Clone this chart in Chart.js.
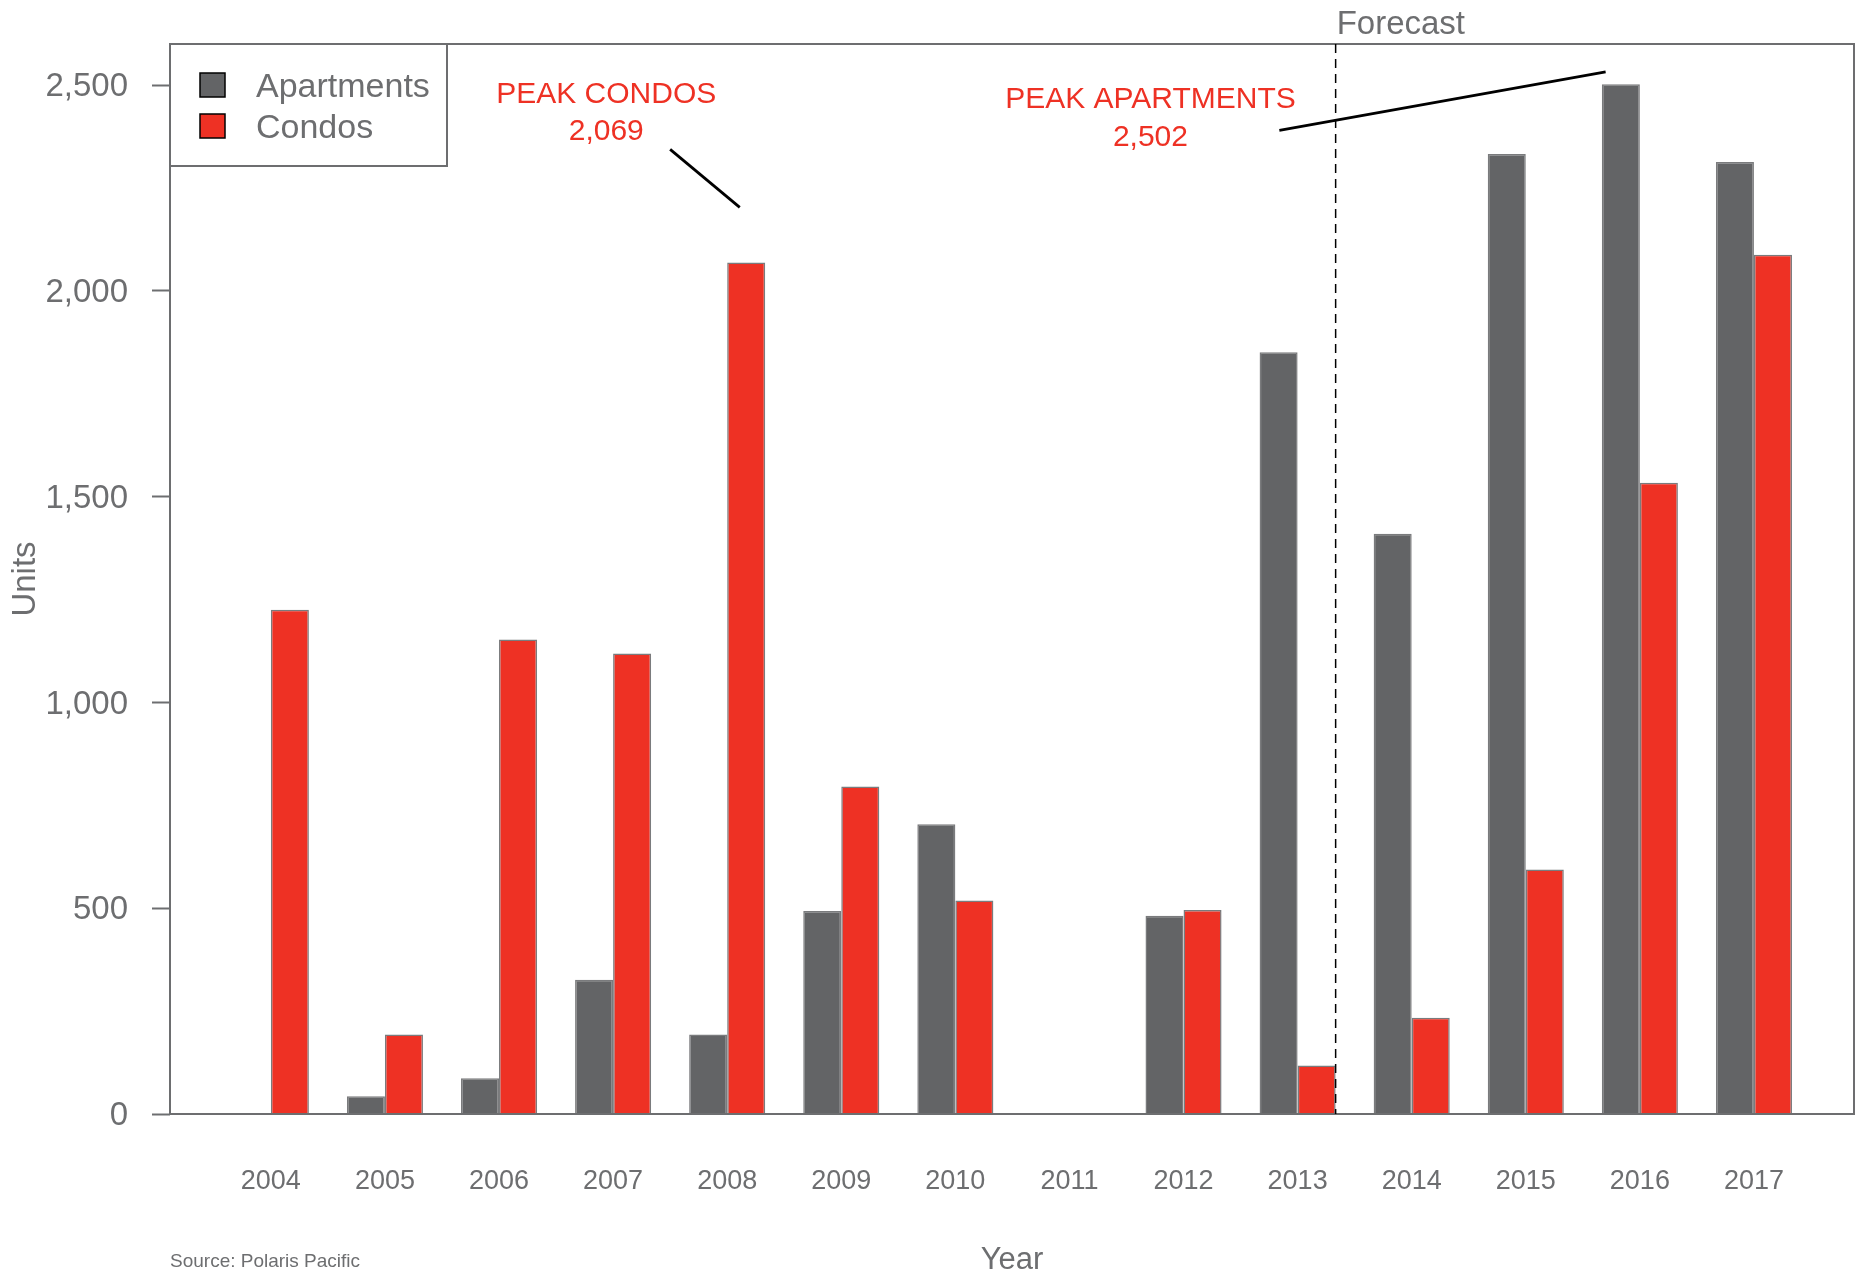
<!DOCTYPE html>
<html>
<head>
<meta charset="utf-8">
<script src="https://cdn.jsdelivr.net/npm/chart.js@4"></script>
<style>
  html, body { margin: 0; padding: 0; background: #fff; }
  #wrap { width: 1860px; height: 1272px; }
</style>
</head>
<body>
<div id="wrap"><canvas id="chart"></canvas></div>
<script>
const years = [2004, 2005, 2006, 2007, 2008, 2009, 2010, 2011, 2012, 2013, 2014, 2015, 2016, 2017];
const apartments = [0, 43, 87, 326, 193, 493, 704, 0, 482, 1851, 1410, 2333, 2502, 2313];
const condos = [1225, 193, 1153, 1119, 2069, 796, 519, 0, 496, 118, 234, 594, 1534, 2088];
const yTicks = [0, 500, 1000, 1500, 2000, 2500];

const forecastStart = 2013 + 1 / 3;

// callouts, in data units
const callouts = [
    { lines: ["PEAK CONDOS", "2,069"], x: 2006.94, y: [2477, 2387], from: [2007.50, 2344], to: [2008.11, 2203] },
    { lines: ["PEAK APARTMENTS", "2,502"], x: 2011.71, y: [2465, 2373], from: [2012.84, 2390], to: [2015.70, 2532] }
];

const GREY = "#636466";
const RED = "#ee3124";
const TEXT = "#6d6e70";
const FONT = "'Liberation Sans', Arial, sans-serif";

const extras = {
    id: "extras",
    afterDraw(chart) {
        const ctx = chart.ctx;
        const a = chart.chartArea;
        const xs = chart.scales.x, ys = chart.scales.y;
        ctx.save();

        // box
        ctx.strokeStyle = TEXT;
        ctx.lineWidth = 2;
        ctx.strokeRect(a.left, a.top, a.right - a.left, a.bottom - a.top);

        // forecast divider
        const fx = xs.getPixelForValue(forecastStart);
        ctx.strokeStyle = "#000";
        ctx.lineWidth = 1.5;
        ctx.setLineDash([9, 6]);
        ctx.beginPath();
        ctx.moveTo(fx, a.top);
        ctx.lineTo(fx, a.bottom);
        ctx.stroke();
        ctx.setLineDash([]);

        ctx.fillStyle = TEXT;
        ctx.font = "33px " + FONT;
        ctx.textAlign = "left";
        ctx.textBaseline = "middle";
        ctx.fillText("Forecast", fx + 1, 25);

        // callouts
        callouts.forEach(c => {
            ctx.fillStyle = RED;
            ctx.font = "30px " + FONT;
            ctx.textAlign = "center";
            c.lines.forEach((t, i) => {
                ctx.fillText(t, xs.getPixelForValue(c.x), ys.getPixelForValue(c.y[i]));
            });
            ctx.strokeStyle = "#000";
            ctx.lineWidth = 2.8;
            ctx.beginPath();
            ctx.moveTo(xs.getPixelForValue(c.from[0]), ys.getPixelForValue(c.from[1]));
            ctx.lineTo(xs.getPixelForValue(c.to[0]), ys.getPixelForValue(c.to[1]));
            ctx.stroke();
        });

        // legend
        const lx = a.left, ly = a.top, lw = 277, lh = 122;
        ctx.fillStyle = "#fff";
        ctx.fillRect(lx, ly, lw, lh);
        ctx.strokeStyle = TEXT;
        ctx.lineWidth = 2;
        ctx.strokeRect(lx, ly, lw, lh);
        chart.data.datasets.forEach((ds, i) => {
            const cy = ly + 41 + i * 41;
            ctx.fillStyle = ds.backgroundColor;
            ctx.fillRect(lx + 30, cy - 12, 25, 24);
            ctx.strokeStyle = "#000";
            ctx.lineWidth = 1.5;
            ctx.strokeRect(lx + 30, cy - 12, 25, 24);
            ctx.fillStyle = TEXT;
            ctx.font = "34px " + FONT;
            ctx.textAlign = "left";
            ctx.textBaseline = "middle";
            ctx.fillText(ds.label, lx + 86, cy + 3);
        });

        // source
        ctx.fillStyle = TEXT;
        ctx.font = "19px " + FONT;
        ctx.textAlign = "left";
        ctx.fillText("Source: Polaris Pacific", a.left, 1262);
        ctx.restore();
    }
};

new Chart(document.getElementById("chart"), {
    type: "bar",
    data: {
        datasets: [
            {
                label: "Apartments",
                data: years.map((y, i) => ({ x: y, y: apartments[i] })),
                backgroundColor: GREY,
                borderColor: "#7a7b7d",
                borderWidth: 1.5
            },
            {
                label: "Condos",
                data: years.map((y, i) => ({ x: y, y: condos[i] })),
                backgroundColor: RED,
                borderColor: "#7a7b7d",
                borderWidth: 1.5
            }
        ]
    },
    options: {
        responsive: true,
        maintainAspectRatio: false,
        animation: false,
        layout: { padding: { top: 44, right: 6, left: 0, bottom: 0 } },
        datasets: { bar: { categoryPercentage: 2 / 3, barPercentage: 1 } },
        plugins: { legend: { display: false }, tooltip: { enabled: false } },
        scales: {
            x: {
                type: "linear",
                offset: false,
                min: 2003.116,
                max: 2017.877,
                afterFit: s => { s.height = 158; },
                afterBuildTicks: s => { s.ticks = years.map(v => ({ value: v })); },
                grid: { display: false, offset: false },
                border: { display: false },
                ticks: {
                    autoSkip: false,
                    maxRotation: 0,
                    padding: 43,
                    color: TEXT,
                    font: { family: FONT, size: 27 },
                    callback: v => String(v)
                },
                title: {
                    display: true,
                    text: "Year",
                    color: TEXT,
                    font: { family: FONT, size: 31, lineHeight: 1 },
                    padding: { top: 0, bottom: -4 }
                }
            },
            y: {
                min: 0,
                max: 2600,
                afterFit: s => { s.width = 170; },
                afterBuildTicks: s => { s.ticks = yTicks.map(v => ({ value: v })); },
                grid: {
                    drawOnChartArea: false,
                    drawTicks: true,
                    tickLength: 18,
                    tickColor: TEXT,
                    tickWidth: 2
                },
                border: { display: false },
                ticks: {
                    padding: 24,
                    labelOffset: 2,
                    color: TEXT,
                    font: { family: FONT, size: 33 },
                    callback: v => v.toLocaleString("en-US")
                },
                title: {
                    display: true,
                    text: "Units",
                    color: TEXT,
                    font: { family: FONT, size: 33 },
                    padding: { top: 6, bottom: 0 }
                }
            }
        }
    },
    plugins: [extras]
});
</script>
</body>
</html>
